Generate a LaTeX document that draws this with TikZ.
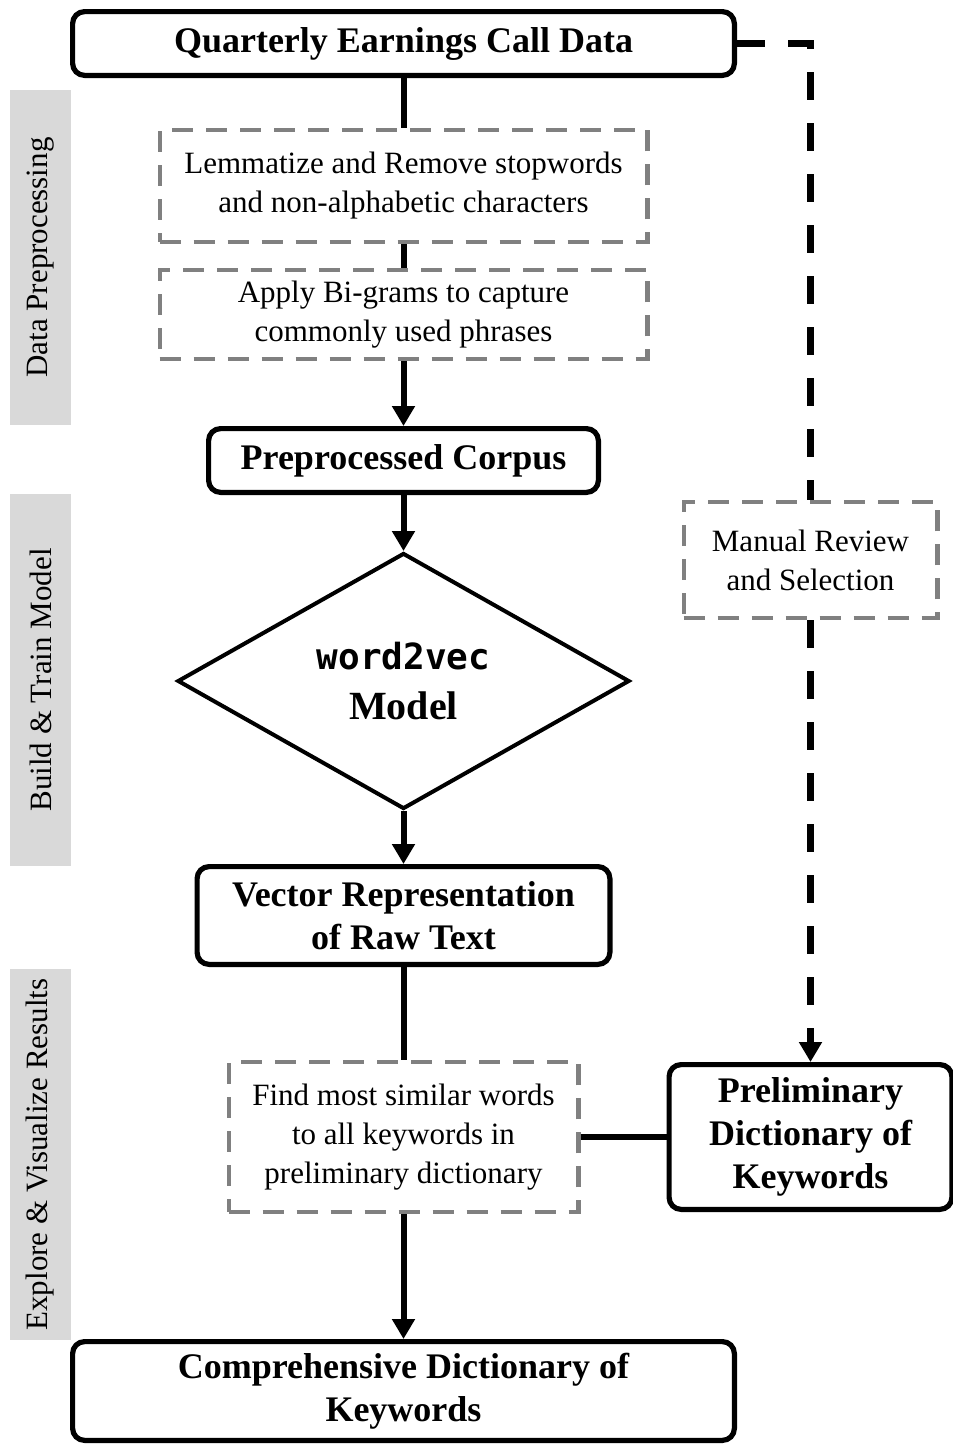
\documentclass[tikz,border=0pt]{standalone}
\usepackage{fontspec}
\setmainfont{Liberation Serif}
\newfontfamily\codefont{DejaVu Sans Mono}
\usetikzlibrary{arrows.meta,positioning,shapes.geometric}
\definecolor{stagegray}{RGB}{217,217,217}
\definecolor{dashgray}{RGB}{128,128,128}
\tikzset{
  mainbox/.style={rounded corners=6pt, draw=black, fill=white, line width=2.6pt,
               align=center, inner sep=0pt, font=\fontsize{18}{21.5}\selectfont\bfseries},
  stepbox/.style={draw=dashgray, line width=2.2pt, dash pattern=on 10.5pt off 6.5pt,
               align=center, inner sep=0pt, font=\fontsize{15.5}{19.5}\selectfont},
  modelbox/.style={diamond, draw=black, line width=2pt, align=center, inner sep=0pt,
               minimum width=226pt, minimum height=128pt, font=\fontsize{18}{25}\selectfont},
  stage/.style={fill=stagegray, rotate=90, minimum height=30.5pt, inner sep=0pt,
               font=\fontsize{15.5}{18}\selectfont},
  flow/.style={-{Triangle[length=10pt,width=11pt]}, line width=3pt},
  link/.style={line width=3pt},
  review/.style={line width=3.2pt, dash pattern=on 14pt off 11.5pt},
}

\begin{document}
\begin{tikzpicture}[x=0.5pt,y=-0.5pt]
    \useasboundingbox (0,0) rectangle (953,1446);
    % stages on the left
    \node[stage, minimum width=167.5pt] (prep) at (40.5,257.5) {Data Preprocessing};
    \node[stage, minimum width=186pt] (train) at (40.5,680) {Build \& Train Model};
    \node[stage, minimum width=185.5pt] (explore) at (40.5,1154.5) {Explore \& Visualize Results};

    % main column
    \node[mainbox, minimum width=330.9pt, minimum height=31.9pt] (calls) at (403.5,43.5) {Quarterly Earnings Call Data};
    \node[stepbox, minimum width=243.8pt, minimum height=55.8pt, below=25pt of calls] (clean) {Lemmatize and Remove stopwords\\ and non-alphabetic characters};
    \node[stepbox, minimum width=243.8pt, minimum height=44.3pt, below=12pt of clean] (bigram) {Apply Bi-grams to capture\\ commonly used phrases};
    \node[mainbox, minimum width=194.9pt, minimum height=31.9pt, below=32.5pt of bigram] (corpus) {Preprocessed Corpus};
    \node[modelbox, below=28pt of corpus] (model) {{\codefont\bfseries word2vec}\\ {\bfseries\fontsize{20}{25}\selectfont Model}};
    \node[mainbox, minimum width=206.4pt, minimum height=48.9pt, below=26.5pt of model] (vec) {Vector Representation\\ of Raw Text};
    \node[stepbox, minimum width=174.8pt, minimum height=74.8pt, below=46.5pt of vec] (similar) {Find most similar words\\ to all keywords in\\ preliminary dictionary};
    \node[mainbox, minimum width=330.9pt, minimum height=49.4pt, below=62.5pt of similar] (final) {Comprehensive Dictionary of\\ Keywords};

    % right column
    \node[mainbox, minimum width=141.4pt, minimum height=72.4pt, right=43pt of similar] (prelim) {Preliminary\\ Dictionary of\\ Keywords};
    \node[stepbox, minimum width=126.8pt, minimum height=57.8pt, above=221pt of prelim] (manual) {Manual Review\\ and Selection};

    \draw[link] (calls) -- (clean);
    \draw[link] (clean) -- (bigram);
    \draw[flow] (bigram) -- (corpus);
    \draw[flow] (corpus) -- (model);
    \draw[flow] (model) -- (vec);
    \draw[link] (vec) -- (similar);
    \draw[flow] (similar) -- (final);
    \draw[link] (similar) -- (prelim);
    \draw[review] (calls.east) -| (manual.north);
    \draw[review, -{Triangle[length=10pt,width=11pt]}] (manual) -- (prelim);
  \end{tikzpicture}
\end{document}
